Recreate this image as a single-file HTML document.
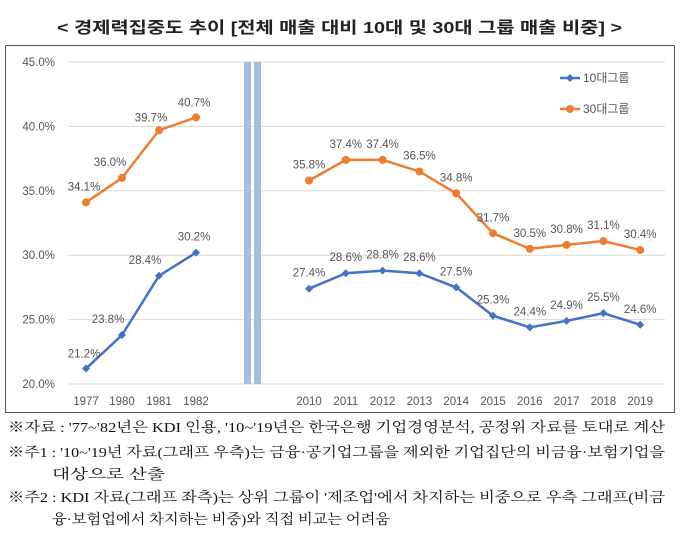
<!DOCTYPE html>
<html><head><meta charset="utf-8"><style>
body{margin:0;background:#fff;width:680px;height:538px;overflow:hidden}
svg{display:block}
.t{font-family:"Liberation Sans","Noto Sans CJK KR",sans-serif;font-size:11.5px;fill:#555}
.fn{font-family:"Liberation Serif","Noto Serif CJK SC",serif;font-size:14px;fill:#111}
</style></head><body>
<svg id="s" width="680" height="538" xmlns="http://www.w3.org/2000/svg">
<text x="57" y="33" textLength="565" lengthAdjust="spacingAndGlyphs" style="font-family:'Liberation Sans','Noto Sans CJK KR',sans-serif;font-size:16px;font-weight:bold;fill:#222">&lt; 경제력집중도 추이 [전체 매출 대비 10대 및 30대 그룹 매출 비중] &gt;</text>
<rect x="5.5" y="45.5" width="669" height="367" fill="none" stroke="#555" stroke-width="1"/>
<text class="fn" x="8" y="432" textLength="657" lengthAdjust="spacingAndGlyphs">※자료 : '77~'82년은 KDI 인용, '10~'19년은 한국은행 기업경영분석, 공정위 자료를 토대로 계산</text>
<text class="fn" x="8" y="457" textLength="657" lengthAdjust="spacingAndGlyphs">※주1 : '10~'19년 자료(그래프 우측)는 금융·공기업그룹을 제외한 기업집단의 비금융·보험기업을</text>
<text class="fn" x="52" y="479" textLength="113" lengthAdjust="spacingAndGlyphs">대상으로 산출</text>
<text class="fn" x="8" y="502" textLength="657" lengthAdjust="spacingAndGlyphs">※주2 : KDI 자료(그래프 좌측)는 상위 그룹이 '제조업'에서 차지하는 비중으로 우측 그래프(비금</text>
<text class="fn" x="52" y="524" textLength="338" lengthAdjust="spacingAndGlyphs">융·보험업에서 차지하는 비중)와 직접 비교는 어려움</text>
</svg>
<script>
const s=document.getElementById('s');const NS='http://www.w3.org/2000/svg';
function el(t,a,txt){const e=document.createElementNS(NS,t);for(const k in a)e.setAttribute(k,a[k]);if(txt!=null)e.textContent=txt;s.appendChild(e);return e;}
const Y=v=>384-(v-20)*12.88;
for(let v=20;v<=45;v+=5){el('line',{x1:68,x2:665,y1:Y(v),y2:Y(v),stroke:'#d9d9d9','stroke-width':1});el('text',{class:'t',x:55,y:Y(v)+4,'text-anchor':'end'},v.toFixed(1)+'%');}
el('rect',{x:244,y:62,width:7,height:322,fill:'#a4bde0'});
el('rect',{x:254,y:62,width:7,height:322,fill:'#a4bde0'});
const lx=[86,122,159,196],ly=['1977','1980','1981','1982'];
const rx=[],ry=[];for(let i=0;i<10;i++){rx.push(309+i*36.8);ry.push(String(2010+i));}
[...lx.map((x,i)=>[x,ly[i]]),...rx.map((x,i)=>[x,ry[i]])].forEach(([x,l])=>el('text',{class:'t',x:x,y:405,'text-anchor':'middle'},l));
function series(xs,vs,col,lab){
 el('polyline',{points:xs.map((x,i)=>x+','+Y(vs[i])).join(' '),fill:'none',stroke:col,'stroke-width':2.5});
 xs.forEach((x,i)=>{const y=Y(vs[i]);
  if(col=='#4472c4')el('path',{d:`M${x} ${y-4}L${x+4} ${y}L${x} ${y+4}L${x-4} ${y}Z`,fill:col});else el('circle',{cx:x,cy:y,r:4,fill:col});
  const [dx,dy]=lab(i);el('text',{class:'t',x:x+dx,y:y+dy,'text-anchor':'middle'},vs[i].toFixed(1)+'%');});
}
const B='#4472c4',O='#ed7d31';
series(lx,[34.1,36,39.7,40.7],O,i=>[[-2,-12],[-12,-12],[-8,-9],[-2,-11]][i]);
series(lx,[21.2,23.8,28.4,30.2],B,i=>[[-2,-11],[-14,-12],[-14,-12],[-2,-12]][i]);
series(rx,[35.8,37.4,37.4,36.5,34.8,31.7,30.5,30.8,31.1,30.4],O,i=>[0,-12]);
series(rx,[27.4,28.6,28.8,28.6,27.5,25.3,24.4,24.9,25.5,24.6],B,i=>[0,-12]);
el('line',{x1:560,x2:580,y1:78,y2:78,stroke:B,'stroke-width':2.5});
el('path',{d:'M570 74L574 78L570 82L566 78Z',fill:B});
el('text',{class:'t',x:583,y:82,style:'font-size:12px'},'10대그룹');
el('line',{x1:560,x2:580,y1:109,y2:109,stroke:O,'stroke-width':2.5});
el('circle',{cx:570,cy:109,r:4,fill:O});
el('text',{class:'t',x:583,y:113,style:'font-size:12px'},'30대그룹');
</script>
</body></html>
